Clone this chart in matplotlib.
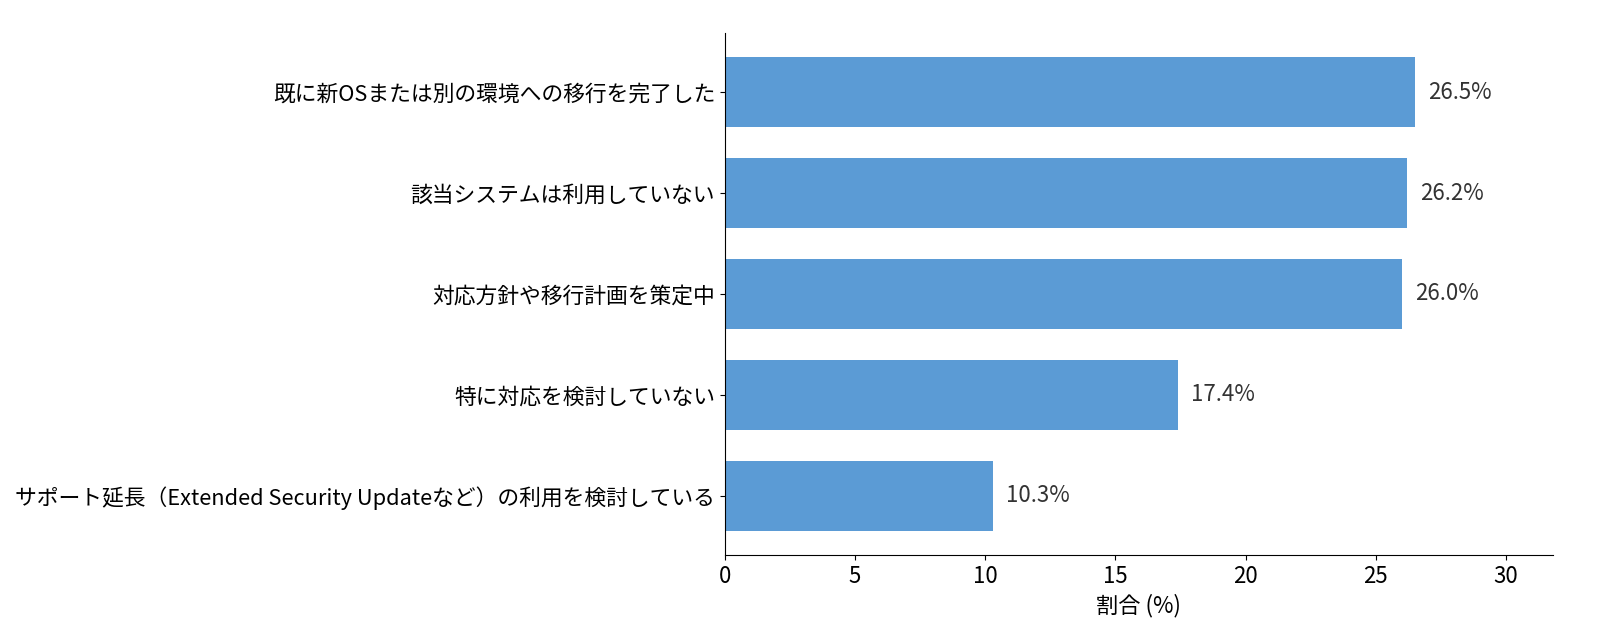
import matplotlib
matplotlib.use("Agg")
import matplotlib.pyplot as plt

plt.rcParams['font.family'] = ['Noto Sans CJK JP', 'DejaVu Sans']

# ── DATA ──────────────────────────────────────────────
categories = [
    "既に新OSまたは別の環境への移行を完了した",
    "該当システムは利用していない",
    "対応方針や移行計画を策定中",
    "特に対応を検討していない",
    "サポート延長（Extended Security Updateなど）の利用を検討している",
]
values = [26.5, 26.2, 26.0, 17.4, 10.3]

BAR_COLOR = "#5B9BD5"

fig, ax = plt.subplots(figsize=(16, 6.44), dpi=100)
fig.subplots_adjust(left=0.453, right=0.9706, top=0.9488, bottom=0.1382)

ypos = list(range(len(categories)))
ax.barh(ypos, values, height=0.7, color=BAR_COLOR)
ax.set_yticks(ypos)
ax.set_yticklabels(categories, fontsize=15.7)
ax.invert_yaxis()

for y, v in zip(ypos, values):
    ax.text(v + 0.5, y, f"{v}%", va="center", ha="left",
            fontsize=16, color="#333333")

ax.set_xlim(0, max(values) * 1.2)
ax.set_xlabel("割合 (%)", fontsize=16)
ax.tick_params(axis="x", labelsize=16)
ax.spines["top"].set_visible(False)
ax.spines["right"].set_visible(False)

plt.savefig("out.png", dpi=100)
plt.close()
